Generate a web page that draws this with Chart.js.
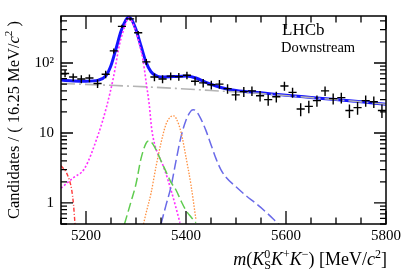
<!DOCTYPE html>
<html>
<head>
<meta charset="utf-8">
<script src="https://cdn.jsdelivr.net/npm/chart.js@4.4.1/dist/chart.umd.min.js"></script>
<style>
  html, body { margin: 0; padding: 0; background: #fff; }
  #wrap { width: 407px; height: 274px; }
</style>
</head>
<body>
<div id="wrap"><canvas id="chart" width="407" height="274"></canvas></div>
<script>
// data: 40 bins of 16.25 MeV between 5150 and 5800
var binWidth = 16.25;
var binCenters = [5158.125, 5174.375, 5190.625, 5206.875, 5223.125, 5239.375, 5255.625, 5271.875,
  5288.125, 5304.375, 5320.625, 5336.875, 5353.125, 5369.375, 5385.625, 5401.875, 5418.125,
  5434.375, 5450.625, 5466.875, 5483.125, 5499.375, 5515.625, 5531.875, 5548.125, 5564.375,
  5580.625, 5596.875, 5613.125, 5629.375, 5645.625, 5661.875, 5678.125, 5694.375, 5710.625,
  5726.875, 5743.125, 5759.375, 5775.625, 5791.875];
var counts = [71, 63, 59, 61, 51, 69, 149, 334, 427, 271, 104, 63, 59, 65, 64, 67, 55, 52, 49, 50,
  43, 35, 39, 40, 34, 30, 33, 47, 38, 22, 24, 29, 40, 31, 32, 21, 23, 29, 28, 21];

// fit curves
var totalX = [5150, 5175, 5200, 5225, 5240, 5250, 5260, 5270, 5280, 5285, 5290, 5300, 5310, 5320,
  5330, 5340, 5350, 5375, 5400, 5420, 5440, 5460, 5480, 5500, 5550, 5600, 5650, 5700, 5750, 5800];
var totalY = [57, 55.5, 55, 57, 66, 92, 160, 285, 415, 450, 430, 300, 175, 103,
  75, 66, 63, 64, 65, 61, 53, 47, 43, 40.5, 37.5, 34.6, 32.2, 30, 27.9, 25.8];

var bkgX = [5150, 5250, 5350, 5450, 5550, 5650, 5750, 5800];
var bkgY = [51, 48, 44.5, 40.5, 36.5, 32, 27.8, 25.8];

var sigX = [5150, 5175, 5197, 5224, 5241, 5255, 5267, 5278, 5285, 5292, 5300, 5307, 5314, 5320,
  5327, 5331, 5337, 5344, 5355, 5371, 5378, 5388];
var sigY = [1.63, 2.3, 3.1, 9.3, 23.5, 63, 184, 340, 440, 390, 280, 184, 110, 55,
  23.5, 12, 7, 5, 3.3, 1.45, 0.96, 0.52];

var greenX = [5277, 5290, 5300, 5310, 5320, 5325, 5330, 5340, 5350, 5360, 5370, 5380, 5390, 5400, 5410, 5420];
var greenY = [0.5, 1.04, 1.87, 4.3, 7.1, 7.7, 7.5, 5.8, 4.0, 2.8, 1.97, 1.53, 1.07, 0.78, 0.63, 0.52];

var orangeX = [5315, 5320, 5330, 5340, 5350, 5360, 5370, 5375, 5380, 5390, 5400, 5410, 5420];
var orangeY = [0.5, 0.71, 1.37, 3.3, 7.2, 13.3, 17.2, 17.6, 16.3, 10.3, 4.5, 1.8, 0.57];

var violetX = [5350, 5360, 5370, 5380, 5390, 5400, 5410, 5415, 5420, 5430, 5440, 5450, 5460, 5470,
  5480, 5500, 5520, 5540, 5560, 5580, 5586];
var violetY = [0.5, 0.93, 1.71, 4.0, 8.8, 15.2, 20.7, 21.5, 20.7, 15.8, 10.8, 6.8, 4.3, 2.97,
  2.33, 1.7, 1.27, 0.98, 0.74, 0.54, 0.49];

var redX = [5150, 5155, 5161, 5166, 5171, 5175, 5178];
var redY = [3.4, 3.1, 2.7, 2.2, 1.6, 0.95, 0.5];

var xMin = 5150, xMax = 5800, yMin = 0.5, yMax = 470;
var xLabels = [5200, 5400, 5600, 5800];
var yLabels = { 1: '1', 10: '10', 100: '10\u00b2' };

var serif = "'Liberation Serif', 'DejaVu Serif', serif";

function pts(xs, ys) {
  return xs.map(function (x, i) { return { x: x, y: ys[i] }; });
}

function curve(label, xs, ys, color, width, dash) {
  return {
    label: label,
    data: pts(xs, ys),
    borderColor: color,
    borderWidth: width,
    borderDash: dash,
    pointRadius: 0,
    fill: false,
    cubicInterpolationMode: 'monotone'
  };
}

// rich text helper: parts of {t, it, sup, sub}
function drawRich(ctx, parts, x, y, size, align) {
  var small = Math.round(size * 0.68);
  function font(it, s) { return (it ? 'italic ' : '') + s + 'px ' + serif; }
  function partWidth(p) {
    var w = 0;
    if (p.t) { ctx.font = font(p.it, size); w += ctx.measureText(p.t).width; }
    var sw = 0;
    if (p.sup) { ctx.font = font(false, small); sw = Math.max(sw, ctx.measureText(p.sup).width); }
    if (p.sub) { ctx.font = font(false, small); sw = Math.max(sw, ctx.measureText(p.sub).width); }
    return w + sw;
  }
  var total = 0;
  parts.forEach(function (p) { total += partWidth(p); });
  var cx = align === 'right' ? x - total : (align === 'center' ? x - total / 2 : x);
  ctx.textBaseline = 'alphabetic';
  ctx.textAlign = 'left';
  parts.forEach(function (p) {
    if (p.t) {
      ctx.font = font(p.it, size);
      ctx.fillText(p.t, cx, y);
      cx += ctx.measureText(p.t).width;
    }
    var sw = 0;
    ctx.font = font(false, small);
    if (p.sup) { ctx.fillText(p.sup, cx, y - size * 0.4); sw = Math.max(sw, ctx.measureText(p.sup).width); }
    if (p.sub) { ctx.fillText(p.sub, cx, y + size * 0.22); sw = Math.max(sw, ctx.measureText(p.sub).width); }
    cx += sw;
  });
}

var decorations = {
  id: 'decorations',
  afterDatasetsDraw: function (chart) {
    var ctx = chart.ctx, a = chart.chartArea;
    var xs = chart.scales.x, ys = chart.scales.y;
    ctx.save();

    // data points with error bars
    ctx.beginPath();
    ctx.rect(a.left, a.top, a.right - a.left, a.bottom - a.top);
    ctx.clip();
    ctx.strokeStyle = '#000';
    ctx.lineWidth = 1.4;
    binCenters.forEach(function (c, i) {
      var n = counts[i], e = Math.sqrt(n);
      var px = xs.getPixelForValue(c), py = ys.getPixelForValue(n);
      ctx.beginPath();
      ctx.moveTo(xs.getPixelForValue(c - binWidth / 2), py);
      ctx.lineTo(xs.getPixelForValue(c + binWidth / 2), py);
      ctx.moveTo(px, ys.getPixelForValue(n + e));
      ctx.lineTo(px, ys.getPixelForValue(n - e));
      ctx.stroke();
    });
    ctx.restore();

    ctx.save();
    // frame
    ctx.strokeStyle = '#000';
    ctx.lineWidth = 1.5;
    ctx.strokeRect(a.left, a.top, a.right - a.left, a.bottom - a.top);

    // ticks pointing inward on all four sides
    ctx.lineWidth = 1.3;
    ctx.beginPath();
    xs.ticks.forEach(function (t) {
      var p = xs.getPixelForValue(t.value);
      var len = (t.value % 200 === 0) ? 13 : 6.5;
      ctx.moveTo(p, a.bottom); ctx.lineTo(p, a.bottom - len);
      ctx.moveTo(p, a.top); ctx.lineTo(p, a.top + len);
    });
    ys.ticks.forEach(function (t) {
      var p = ys.getPixelForValue(t.value);
      var len = yLabels[t.value] ? 12 : 6;
      ctx.moveTo(a.left, p); ctx.lineTo(a.left + len, p);
      ctx.moveTo(a.right, p); ctx.lineTo(a.right - len, p);
    });
    ctx.stroke();

    // texts
    ctx.fillStyle = '#000';
    ctx.font = '17px ' + serif;
    ctx.textAlign = 'left';
    ctx.textBaseline = 'alphabetic';
    ctx.fillText('LHCb', 282, 35);
    ctx.font = '14.5px ' + serif;
    ctx.fillText('Downstream', 281, 52);

    // x axis title
    drawRich(ctx, [
      { t: 'm', it: true }, { t: '(' }, { t: 'K', it: true, sup: '0', sub: 'S' },
      { t: 'K', it: true, sup: '+' }, { t: 'K', it: true, sup: '\u2212' },
      { t: ') [MeV/' }, { t: 'c', it: true, sup: '2' }, { t: ']' }
    ], 387, 265, 18, 'right');

    // y axis title
    ctx.translate(19, (a.top + a.bottom) / 2);
    ctx.rotate(-Math.PI / 2);
    drawRich(ctx, [
      { t: 'Candidates / ( 16.25 MeV/' }, { t: 'c', it: true, sup: '2' }, { t: ' )' }
    ], 0, 0, 16.5, 'center');
    ctx.restore();
  }
};

var chart = new Chart(document.getElementById('chart'), {
  type: 'line',
  data: {
    datasets: [
      curve('red', redX, redY, '#ff3a3a', 1.4, [4, 2, 1, 2]),
      curve('green', greenX, greenY, '#5fcc4f', 1.5, [9, 4]),
      curve('orange', orangeX, orangeY, '#ff9040', 1.3, [1.5, 1.5]),
      curve('violet', violetX, violetY, '#6a6ae8', 1.5, [10, 4]),
      curve('signal', sigX, sigY, '#ff30ff', 1.6, [2, 2]),
      curve('background', bkgX, bkgY, '#b4b4b4', 1.6, [14, 4, 2, 4]),
      curve('total', totalX, totalY, '#1414ff', 3, [])
    ]
  },
  options: {
    responsive: false,
    animation: false,
    events: [],
    layout: { padding: { left: 0, right: 21, top: 3, bottom: 0 } },
    plugins: { legend: { display: false }, tooltip: { enabled: false } },
    scales: {
      x: {
        type: 'linear',
        min: xMin, max: xMax,
        grid: { display: false, drawTicks: false },
        border: { display: false },
        ticks: {
          stepSize: 50,
          autoSkip: false,
          maxRotation: 0,
          padding: 3,
          color: '#000',
          font: { family: serif, size: 15 },
          callback: function (v) { return xLabels.indexOf(v) >= 0 ? String(v) : ''; }
        },
        afterFit: function (s) { s.height = 50; }
      },
      y: {
        type: 'logarithmic',
        min: yMin, max: yMax,
        grid: { display: false, drawTicks: false },
        border: { display: false },
        afterBuildTicks: function (s) {
          var t = [];
          [0.1, 1, 10, 100].forEach(function (d) {
            for (var m = 1; m <= 9; m++) {
              var v = Math.round(m * d * 10) / 10;
              if (v >= yMin && v <= yMax) t.push({ value: v });
            }
          });
          s.ticks = t;
        },
        ticks: {
          autoSkip: false,
          padding: 7,
          color: '#000',
          font: { family: serif, size: 15 },
          callback: function (v) { return yLabels[v] || ''; }
        },
        afterFit: function (s) { s.width = 61; }
      }
    }
  },
  plugins: [decorations]
});
</script>
</body>
</html>
